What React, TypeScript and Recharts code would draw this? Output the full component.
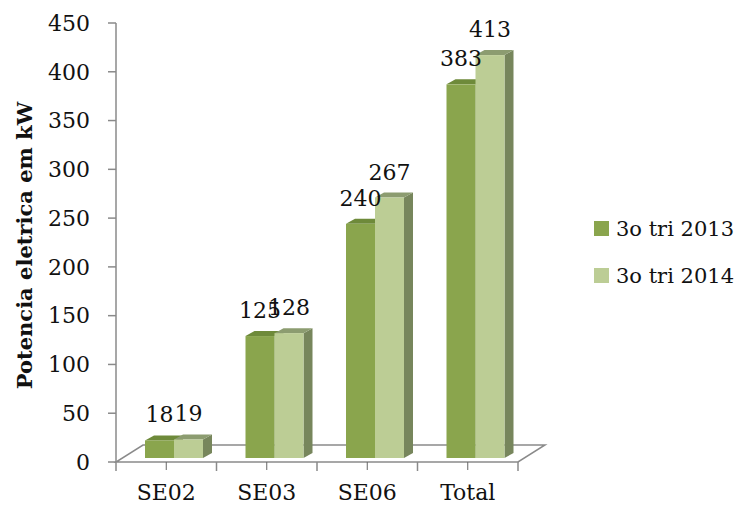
import { BarChart, Bar, XAxis, YAxis, Legend, LabelList, ReferenceArea } from "recharts";

const categories = ["SE02", "SE03", "SE06", "Total"];
const tri2013 = [18, 125, 240, 383];
const tri2014 = [19, 128, 267, 413];
const yTicks = [0, 50, 100, 150, 200, 250, 300, 350, 400, 450];
const seriesNames = ["3o tri 2013", "3o tri 2014"];

const data = categories.map((name, i) => ({ name, a: tri2013[i], b: tri2014[i] }));

const FONT = "'DejaVu Serif', serif";
const AXIS = "#8a8a8a";
// shift of the bars into the 3D floor, and depth of each bar
const SX = 8;
const SY = -4;
const DX = 9;
const DY = 5;

function Bar3D(props: any) {
  const { x, y, width: w, height: h, front, top, side } = props;
  if (w == null || h == null) return null;
  const fx = x + SX;
  const fy = y + SY;
  return (
    <g>
      <polygon
        points={`${fx + w},${fy} ${fx + w + DX},${fy - DY} ${fx + w + DX},${fy + h - DY} ${fx + w},${fy + h}`}
        fill={side}
      />
      <polygon
        points={`${fx},${fy} ${fx + DX},${fy - DY} ${fx + w + DX},${fy - DY} ${fx + w},${fy}`}
        fill={top}
      />
      <rect x={fx} y={fy} width={w} height={h} fill={front} />
    </g>
  );
}

function ValueLabel(props: any) {
  const { x, y, width, value } = props;
  return (
    <text x={x + SX + width / 2} y={y + SY - 18} textAnchor="middle" fontFamily={FONT} fontSize={22} fill="#111">
      {value}
    </text>
  );
}

function Floor(props: any) {
  const { x, y, width, height } = props;
  const by = y + height;
  return (
    <polygon
      points={`${x},${by} ${x + width},${by} ${x + width + 27},${by - 17} ${x + 27},${by - 17}`}
      fill="none"
      stroke={AXIS}
      strokeWidth={1.5}
    />
  );
}

function XTick(props: any) {
  const { x, y, payload, index, visibleTicksCount } = props;
  const half = payload.offset ?? 50;
  const last = index === visibleTicksCount - 1;
  return (
    <g>
      <line x1={x - half} y1={y - 10} x2={x - half} y2={y - 1} stroke={AXIS} strokeWidth={1.5} />
      {last && <line x1={x + half} y1={y - 10} x2={x + half} y2={y - 1} stroke={AXIS} strokeWidth={1.5} />}
      <text x={x} y={y + 28} textAnchor="middle" fontFamily={FONT} fontSize={22} fill="#111">
        {payload.value}
      </text>
    </g>
  );
}

function YTitle(props: any) {
  const vb = props.viewBox;
  const cx = vb.x + 16;
  const cy = vb.y + vb.height / 2 + 3;
  return (
    <text
      x={cx}
      y={cy}
      transform={`rotate(-90, ${cx}, ${cy})`}
      textAnchor="middle"
      dominantBaseline="central"
      fontFamily={FONT}
      fontWeight="bold"
      fontSize={21}
      fill="#111"
    >
      Potencia eletrica em kW
    </text>
  );
}

function LegendBox(props: any) {
  const items = props.payload || [];
  return (
    <div style={{ fontFamily: FONT, fontSize: 21, color: "#111", textAlign: "left" }}>
      {items.map((it: any) => (
        <div key={it.value} style={{ display: "flex", alignItems: "center", height: 47, whiteSpace: "nowrap" }}>
          <span style={{ width: 15, height: 15, background: it.color, marginRight: 7, display: "inline-block" }} />
          <span>{it.value}</span>
        </div>
      ))}
    </div>
  );
}

export default function App() {
  return (
    <div style={{ width: 743, height: 510, margin: -8, background: "#fff" }}>
      <BarChart
        width={743}
        height={510}
        data={data}
        margin={{ top: 23, right: 225, left: 8, bottom: 8 }}
        barGap={0}
      >
        <ReferenceArea x1="SE02" x2="Total" shape={<Floor />} />
        <XAxis dataKey="name" axisLine={false} tickSize={8} tickMargin={2} height={40} tick={<XTick />} interval={0} />
        <YAxis
          domain={[0, 450]}
          ticks={yTicks}
          width={108}
          axisLine={{ stroke: AXIS, strokeWidth: 1.5 }}
          tickLine={{ stroke: AXIS, strokeWidth: 1.5 }}
          tickSize={8}
          tickMargin={18}
          tick={{ fontFamily: FONT, fontSize: 22, fill: "#111" }}
          label={<YTitle />}
        />
        <Legend
          layout="horizontal"
          align="center"
          verticalAlign="middle"
          wrapperStyle={{ position: "absolute", left: 594, top: 205, width: 150 }}
          content={<LegendBox />}
        />
        <Bar
          dataKey="a"
          name={seriesNames[0]}
          fill="#8aa54d"
          barSize={29}
          isAnimationActive={false}
          shape={<Bar3D front="#8aa54d" top="#6e8a3a" side="#6b7f45" />}
        >
          <LabelList dataKey="a" content={<ValueLabel />} />
        </Bar>
        <Bar
          dataKey="b"
          name={seriesNames[1]}
          fill="#bccd95"
          barSize={29}
          isAnimationActive={false}
          shape={<Bar3D front="#bccd95" top="#8c9c70" side="#77865c" />}
        >
          <LabelList dataKey="b" content={<ValueLabel />} />
        </Bar>
      </BarChart>
    </div>
  );
}
